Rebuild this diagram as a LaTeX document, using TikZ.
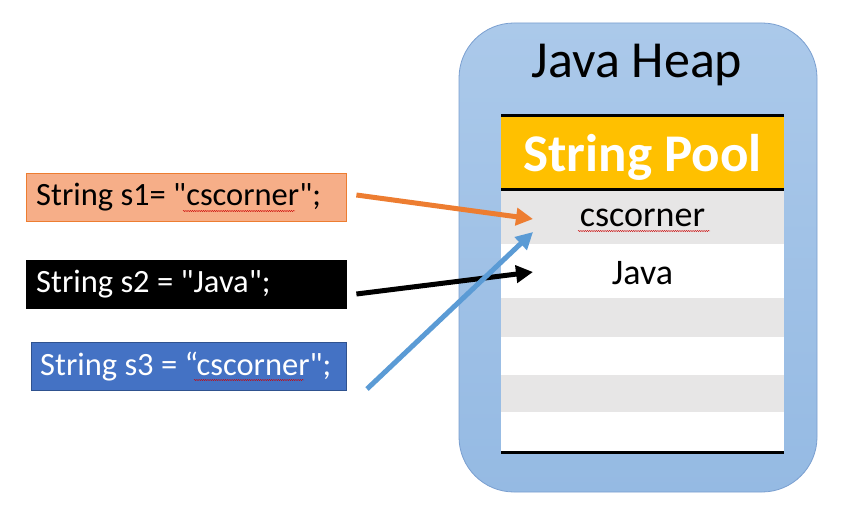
\documentclass[tikz,border=0pt]{standalone}
\usepackage{fontspec}
\setmainfont{Carlito}[Ligatures=TeXOff]
\usetikzlibrary{arrows.meta,positioning,decorations.pathmorphing}
\definecolor{codeorange}{HTML}{F6AE88}
\definecolor{lineorange}{HTML}{ED7D31}
\definecolor{codeblue}{HTML}{4472C4}
\definecolor{lineblue}{HTML}{2F528F}
\definecolor{arrowblue}{HTML}{5B9BD5}
\definecolor{heaptop}{HTML}{ABC9EA}
\definecolor{heapbottom}{HTML}{95BAE3}
\definecolor{heapline}{HTML}{7A9FD0}
\definecolor{poolorange}{HTML}{FFC000}
\definecolor{poolgray}{HTML}{E7E6E6}
\begin{document}
\begin{tikzpicture}[x=1pt, y=-1pt,
    code node/.style={draw, anchor=west, align=flush left, text width=300pt, inner xsep=10pt, minimum height=48pt, font=\fontsize{32.5}{39}\selectfont},
    heap node/.style={draw=heapline, line width=0.8pt, rounded corners=55pt, top color=heaptop, bottom color=heapbottom, minimum width=358pt, minimum height=469pt},
    ptr/.style={line width=5pt, -{Triangle[length=17pt,width=17pt]}},
    squiggle/.style={red!80!black, line width=0.4pt, decorate, decoration={snake, amplitude=0.6pt, segment length=2.2pt}}]
  \useasboundingbox (0,0) rectangle (842,513);

  % heap and its title
  \node[heap node] (heap) at (638,257.5) {};
  \node[font=\fontsize{52}{62}\selectfont] (title) at (637,65) {Java Heap};

  % string pool table
  \fill[white] (501,116) rectangle (784,452);
  \fill[poolorange] (501,116) rectangle (784,189);
  \foreach \top/\bot in {189/244, 298/337, 375/412}
    \fill[poolgray] (501,\top) rectangle (784,\bot);
  \foreach \y in {116, 189, 452}
    \draw[line width=3pt] (501,\y) -- (784,\y);
  \node[font=\fontsize{53}{63}\selectfont\bfseries, text=white] (pool) at (642.5,157) {String Pool};
  \node[font=\fontsize{36}{43}\selectfont, inner sep=0pt] (r1) at (642.5,218) {cscorner};
  \node[font=\fontsize{36}{43}\selectfont, inner sep=0pt] (r2) at (642.5,273) {Java};

  % code lines
  \node[code node, fill=codeorange, draw=lineorange] (s1) at (26,197) {\mbox{String s1= "cscorner";}};
  \node[code node, fill=black, text=white] (s2) at (26,284) {\mbox{String s2 = "Java";}};
  \node[code node, fill=codeblue, draw=lineblue, text=white, text width=297pt, inner xsep=9pt] (s3) at (31,366.5) {\mbox{String s3 = “cscorner";}};

  % spell check marks
  \draw[squiggle] (183,211) -- (295,211);
  \draw[squiggle] (194,380) -- (304,380);
  \draw[squiggle] (578,231) -- (710,231);

  % references into the pool
  \coordinate (c1) at (533,219);
  \coordinate (c2) at (533,272);
  \coordinate (c3) at (533,232);
  \coordinate (b3) at (367,389);
  \draw[ptr, lineorange] ([xshift=10pt,yshift=2pt]s1.east) -- (c1);
  \draw[ptr, black] ([xshift=10pt,yshift=-10pt]s2.east) -- (c2);
  \draw[ptr, arrowblue] (b3) -- (c3);
\end{tikzpicture}
\end{document}
